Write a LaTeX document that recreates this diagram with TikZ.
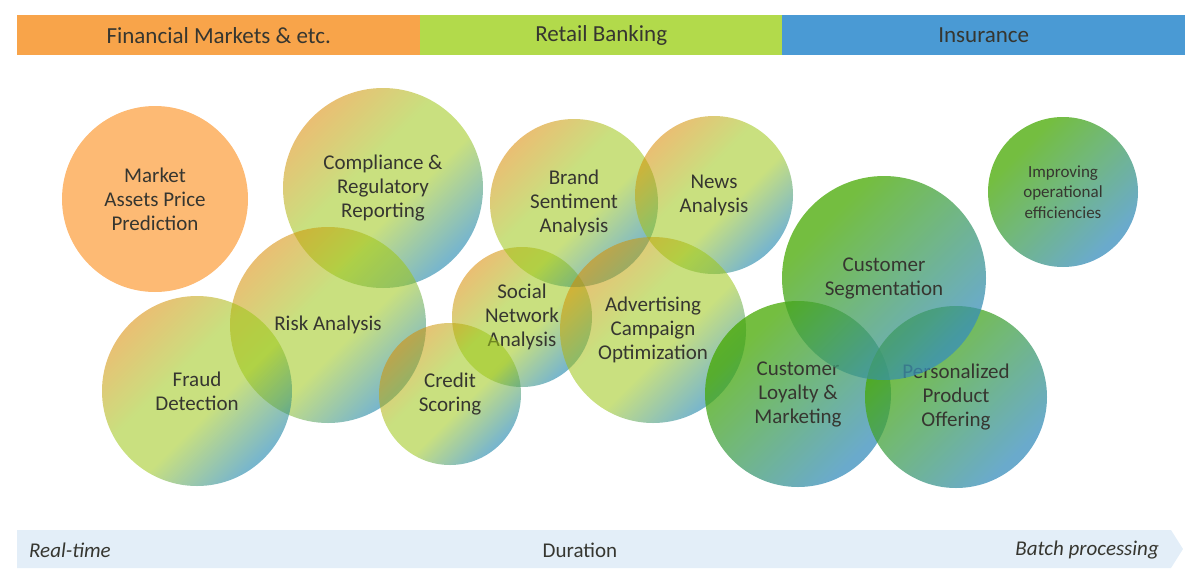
\documentclass[tikz,border=0pt]{standalone}
\usepackage{fontspec}
\setmainfont{Carlito}
\definecolor{barO}{HTML}{F8A44A}
\definecolor{barG}{HTML}{B2DA4B}
\definecolor{barB}{HTML}{4A9AD4}
\definecolor{arrbg}{HTML}{E3EEF8}
\definecolor{mkt}{HTML}{FDBA74}
\definecolor{yo}{HTML}{D88A00}
\definecolor{yg}{HTML}{9CC616}
\definecolor{yb}{HTML}{0A7AA2}
\definecolor{go}{HTML}{45A800}
\definecolor{gg}{HTML}{43A04E}
\definecolor{gb}{HTML}{388EBB}
\definecolor{txt}{HTML}{363630}
\pgfdeclarehorizontalshading{warmshade}{100bp}{color(0bp)=(yo); color(25bp)=(yo); color(43bp)=(yg); color(56bp)=(yg); color(74bp)=(yb); color(100bp)=(yb)}
\pgfdeclarehorizontalshading{coolshade}{100bp}{color(0bp)=(go); color(30bp)=(go); color(48bp)=(gg); color(73bp)=(gb); color(100bp)=(gb)}
\begin{document}
\begin{tikzpicture}[x=1pt,y=-1pt,
  bubble/.style={circle, inner sep=0pt, align=center, text=txt, font=\fontsize{21}{24}\selectfont},
  warm/.style={bubble, shading=warmshade, shading angle=-45, fill opacity=0.55, text opacity=1},
  cool/.style={bubble, shading=coolshade, shading angle=-45, fill opacity=0.75, text opacity=1},
  barbox/.style={minimum height=40pt, inner sep=0pt, anchor=north west, text=txt, font=\fontsize{23}{26}\selectfont},
  axtext/.style={inner sep=0pt, text=txt, font=\fontsize{21}{24}\selectfont}]
\useasboundingbox (0,0) rectangle (1200,579);
% top bar
\node[barbox, fill=barO, minimum width=403pt] (fin) at (17,15) {Financial Markets \& etc.};
\node[barbox, fill=barG, minimum width=362pt] (ret) at (420,15) {Retail Banking};
\node[barbox, fill=barB, minimum width=403pt] (ins) at (782,15) {Insurance};
% bottom arrow
\fill[arrbg] (17,530) -- (1171,530) -- (1183,549) -- (1171,568) -- (17,568) -- cycle;
\node[axtext, anchor=west] (rt) at (29,550) {\itshape Real-time};
\node[axtext] (dur) at (580,550) {Duration};
\node[axtext, anchor=east] (bp) at (1159,550) {\itshape Batch processing};
% bubbles
\node[bubble, fill=mkt, minimum size=186pt] (mkt) at (155,199) {Market\\Assets Price\\Prediction};
\node[warm, minimum size=200pt] (comp) at (383,188) {Compliance \&\\Regulatory\\Reporting};
\node[warm, minimum size=196pt] (risk) at (328,325) {Risk Analysis};
\node[warm, minimum size=190pt] (fraud) at (197,391) {Fraud\\Detection};
\node[warm, minimum size=140pt] (social) at (522,317) {Social\\Network\\Analysis};
\node[warm, minimum size=142pt] (credit) at (450,394) {Credit\\Scoring};
\node[warm, minimum size=168pt] (brand) at (574,203) {Brand\\Sentiment\\Analysis};
\node[warm, minimum size=158pt] (news) at (714,195) {News\\Analysis};
\node[warm, minimum size=186pt] (adv) at (653,330) {Advertising\\Campaign\\Optimization};
\node[cool, minimum size=186pt] (loy) at (798,394) {Customer\\Loyalty \&\\Marketing};
\node[cool, minimum size=182pt] (pers) at (956,397) {Personalized\\Product\\Offering};
\node[cool, minimum size=204pt] (seg) at (884,278) {Customer\\Segmentation};
\node[cool, minimum size=150pt, font=\fontsize{17}{20.5}\selectfont] (imp) at (1063,192) {Improving\\operational\\efficiencies};
\end{tikzpicture}
\end{document}
